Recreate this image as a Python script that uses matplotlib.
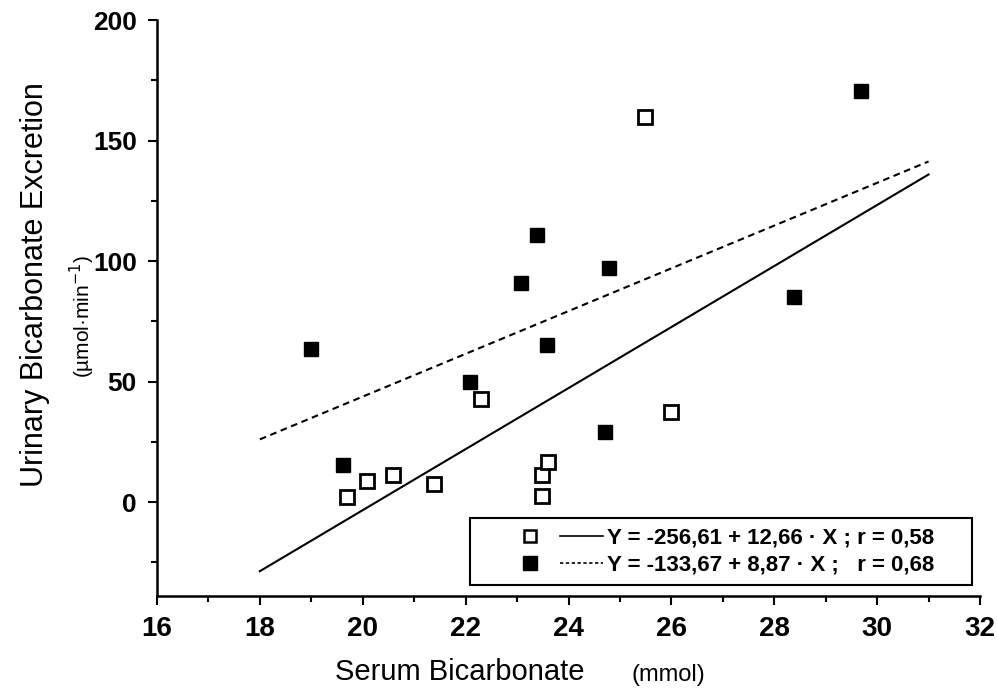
import matplotlib
matplotlib.use("Agg")
import matplotlib.pyplot as plt
from matplotlib.lines import Line2D
from matplotlib.patches import Rectangle
from matplotlib.legend_handler import HandlerTuple
from matplotlib.ticker import MultipleLocator

plt.rcParams["font.family"] = ["Liberation Sans", "DejaVu Sans"]

# open squares (solid regression)
open_x = [19.69, 20.09, 20.59, 21.39, 22.30, 23.49, 23.60, 23.49, 25.48, 25.99]
open_y = [2.1, 8.9, 11.0, 7.4, 42.6, 11.0, 16.5, 2.4, 159.7, 37.5]

# filled squares (dashed regression)
filled_x = [18.99, 19.61, 22.08, 23.08, 23.38, 23.59, 24.79, 24.70, 28.39, 29.69]
filled_y = [63.3, 15.5, 49.9, 90.8, 110.8, 65.3, 97.1, 29.2, 84.9, 170.7]

# regression line end points
solid_x = [18, 31]
solid_y = [-28.7, 135.9]
dashed_x = [18, 31]
dashed_y = [26.0, 141.3]

label_open = "Y = -256,61 + 12,66 \u00b7 X ; r = 0,58"
label_filled = "Y = -133,67 + 8,87 \u00b7 X ;   r = 0,68"

fig = plt.figure(figsize=(9.97, 6.90), dpi=100)
ax = fig.add_axes([157 / 997, 1 - 596 / 690, 823 / 997, 576 / 690])

ax.plot(solid_x, solid_y, color="black", lw=1.5, ls="-")
ax.plot(dashed_x, dashed_y, color="black", lw=1.5, ls=(0, (3.2, 2.2)))
ax.plot(open_x, open_y, ls="none", marker="s", ms=10, mfc="white",
        mec="black", mew=2.0)
ax.plot(filled_x, filled_y, ls="none", marker="s", ms=10.5, mfc="black",
        mec="black", mew=1.0)

ax.set_xlim(16, 32)
ax.set_ylim(-39, 200)
ax.xaxis.set_major_locator(MultipleLocator(2))
ax.xaxis.set_minor_locator(MultipleLocator(1))
ax.set_yticks([0, 50, 100, 150, 200])
ax.yaxis.set_minor_locator(MultipleLocator(25))

for side in ["top", "right"]:
    ax.spines[side].set_visible(False)
for side in ["left", "bottom"]:
    ax.spines[side].set_linewidth(1.8)

ax.tick_params(which="major", direction="out", length=6.5, width=1.5)
ax.tick_params(which="minor", direction="out", length=4.5, width=1.5)
ax.tick_params(axis="x", which="major", labelsize=20, pad=8)
ax.tick_params(axis="y", which="major", labelsize=19, pad=8)
for lab in ax.get_xticklabels() + ax.get_yticklabels():
    lab.set_fontweight("bold")

# axis titles
fig.text(35 / 997, 1 - 285 / 690, "Urinary Bicarbonate Excretion",
         rotation=90, ha="center", va="center", fontsize=22)
fig.text(82 / 997, 1 - 316 / 690, "(\u00b5mol\u00b7min$^{-1}$)",
         rotation=90, ha="center", va="center", fontsize=15)
fig.text(460 / 997, 1 - 672 / 690, "Serum Bicarbonate",
         ha="center", va="center", fontsize=21)
fig.text(668 / 997, 1 - 675 / 690, "(mmol)",
         ha="center", va="center", fontsize=17)

# legend box
ax.add_patch(Rectangle((0.380, 0.019), 0.610, 0.116, transform=ax.transAxes,
                       fill=False, ec="black", lw=1.5, clip_on=False, zorder=5))

h_open = (Line2D([], [], ls="none", marker="s", ms=9, mfc="white", mec="black", mew=1.8),
          Line2D([], [], color="black", lw=1.2, ls="-"))
h_filled = (Line2D([], [], ls="none", marker="s", ms=9.5, mfc="black", mec="black"),
            Line2D([], [], color="black", lw=1.2, ls=(0, (2, 1.5))))
leg = ax.legend([h_open, h_filled], [label_open, label_filled],
                handler_map={tuple: HandlerTuple(ndivide=None, pad=0.38)},
                loc="center left", bbox_to_anchor=((508.5 - 157) / 823, 0.077),
                frameon=False, borderpad=0, borderaxespad=0,
                handlelength=4.25, handletextpad=0.2, labelspacing=0.3,
                prop={"size": 16, "weight": "bold"})

fig.savefig("out.png", dpi=100)
